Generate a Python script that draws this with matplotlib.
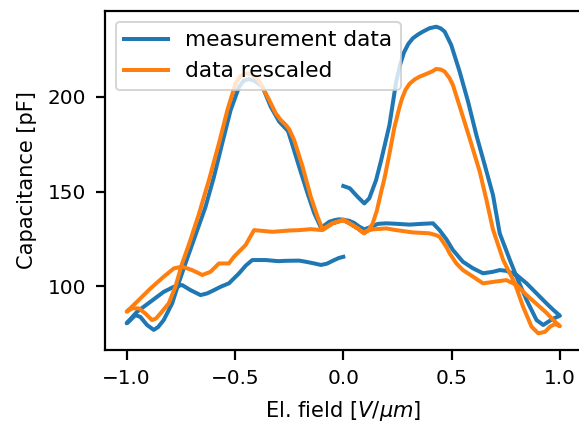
import matplotlib
matplotlib.use("Agg")
import matplotlib.pyplot as plt

# measurement data: start at 0 -> +1 -> -1 -> 0 (field in V/um, capacitance in pF)
meas_E = [0, 0.03, 0.066, 0.097, 0.12, 0.151, 0.175, 0.213, 0.244, 0.262, 0.28, 0.3, 0.321,
          0.345, 0.367, 0.398, 0.429, 0.45, 0.468, 0.498, 0.537, 0.576, 0.614, 0.653,
          0.691, 0.722, 0.769, 0.8, 0.846, 0.892, 0.923, 0.946, 0.97, 1.0,
          0.97, 0.938, 0.892, 0.846, 0.8, 0.753, 0.722, 0.691, 0.645, 0.599, 0.552,
          0.506, 0.475, 0.444, 0.414, 0.36, 0.306, 0.25, 0.198, 0.16, 0.136, 0.097,
          0.074, 0.05, 0.028, 0, -0.019, -0.04, -0.065, -0.085, -0.103,
          -0.134, -0.165, -0.204, -0.242, -0.255, -0.296, -0.335, -0.373, -0.41,
          -0.435, -0.46, -0.481, -0.52, -0.559, -0.597, -0.636, -0.667, -0.698,
          -0.729, -0.759, -0.79, -0.829, -0.855, -0.875, -0.906, -0.937, -0.96,
          -0.983, -1.0,
          -0.952, -0.89, -0.829, -0.782, -0.744, -0.705, -0.659, -0.628, -0.597,
          -0.566, -0.528, -0.505, -0.481, -0.45, -0.42, -0.358, -0.3, -0.265, -0.204,
          -0.173, -0.13, -0.103, -0.075, -0.049, -0.02, 0]
meas_C = [153, 151.8, 147.3, 143.8, 146.5, 156, 166.7, 185.2, 208, 217, 223.5, 228, 231,
          233, 234.5, 236.3, 237.1, 236.2, 234.5, 227.5, 213.4, 197.5, 180, 164,
          148.2, 128, 113.9, 105, 92.8, 82.2, 79.6, 81.3, 83, 84.5,
          87.5, 91, 96.3, 101.6, 106, 108.2, 108.6, 107.7, 106.9, 109.5, 113,
          119.2, 125, 129.7, 133.3, 133, 132.6, 133, 133.3, 133, 131.8, 130.1,
          131.5, 133.5, 134.6, 135.2, 135.4, 135, 134.1, 132.4, 131,
          138.6, 149.1, 163.2, 177.3, 182, 187, 194.9, 205.4, 208.5,
          209.5, 208.5, 205.4, 193.1, 175.5, 157.9, 142, 132, 122,
          112, 102, 91, 82.2, 78.5, 77, 79.6, 83.9, 84.8,
          82.2, 80.5,
          86.6, 91.9, 97.1, 99.8, 100.7, 98, 95.4, 96.3, 98,
          99.8, 101.6, 104.2, 106.9, 111, 113.9, 113.9, 113.3, 113.5, 113.6,
          113, 112, 111.3, 112, 113.5, 115, 115.6]

# rescaled data
resc_E = [0, 0.028, 0.066, 0.09, 0.115, 0.135, 0.155, 0.175, 0.19, 0.213, 0.236, 0.259,
          0.272, 0.288, 0.306, 0.33, 0.352, 0.39, 0.41, 0.429, 0.45, 0.468, 0.49, 0.506,
          0.545, 0.583, 0.63, 0.66, 0.691, 0.738, 0.792, 0.83, 0.869, 0.9, 0.931, 0.954,
          0.977, 1.0,
          0.969, 0.938, 0.907, 0.846, 0.8, 0.769, 0.753, 0.707, 0.645, 0.62, 0.599,
          0.552, 0.522, 0.491, 0.475, 0.444, 0.429, 0.398, 0.321, 0.244, 0.198,
          0.136, 0.115, 0.097, 0.066, 0.028, 0, -0.049, -0.096,
          -0.119, -0.15, -0.188, -0.227, -0.25, -0.265, -0.29, -0.312, -0.35,
          -0.397, -0.425, -0.45, -0.475, -0.497, -0.535, -0.574, -0.62, -0.667,
          -0.69, -0.713, -0.744, -0.775, -0.806, -0.844, -0.865, -0.883, -0.914,
          -0.944, -0.975, -1.0,
          -0.952, -0.89, -0.829, -0.782, -0.744, -0.698, -0.651, -0.613, -0.574,
          -0.528, -0.505, -0.451, -0.412, -0.327, -0.25, -0.204, -0.15, -0.096,
          -0.049, 0]
resc_C = [135, 133.3, 130.6, 128.5, 129.5, 133, 140, 150, 157, 170, 184, 194.5,
          199.5, 204, 207, 209.3, 210.7, 212.5, 213.5, 214.8, 214.5, 213.4, 210, 206.3,
          192.2, 178.2, 160.5, 146, 130, 113.9, 101.6, 89.2, 78.7, 75.2, 76, 78.7,
          80.1, 79,
          82.2, 86, 89.2, 95.4, 100.7, 102.4, 103.3, 102.6, 101.6, 103.5, 105.1,
          108.6, 112.1, 117.4, 121, 126.2, 127, 128, 128.5, 129.7, 130.6,
          130.1, 129.5, 128, 130.6, 133.3, 135, 133.3, 130.2,
          136.8, 147.3, 163.2, 177.3, 183, 185.2, 188, 191.4, 200.2,
          209.9, 212, 212.5, 211, 207.2, 193.1, 175.5, 156.2, 138,
          130, 122, 112.1, 99.8, 91, 85.7, 83, 82.2, 85.7,
          88.4, 88.4, 86.6,
          91.9, 98.9, 105.1, 109.5, 110.4, 108.6, 106, 107.7, 112.1,
          112.1, 115.6, 121.8, 129.7, 128.8, 129.5, 129.7, 130.2, 129.7,
          133.3, 135]

fig = plt.figure(figsize=(579 / 144, 423 / 144), dpi=144)
# axes run a little past the right edge, like the cropped original
ax = fig.add_axes([105 / 579, 73 / 423, 476.6 / 579, 339 / 423])

ax.plot(meas_E, meas_C, color="C0", lw=2, label="measurement data")
ax.plot(resc_E, resc_C, color="C1", lw=2, label="data rescaled")

ax.set_xlim(-1.1, 1.1)
ax.set_ylim(66.4, 245.4)
ax.set_xticks([-1.0, -0.5, 0.0, 0.5, 1.0])
ax.set_yticks([100, 150, 200])
ax.tick_params(length=4.75, width=1.1, pad=4.75, labelsize=10)
for s in ax.spines.values():
    s.set_linewidth(1.1)
ax.set_xlabel(r"El. field [$V/\mu m$]", fontsize=10.5, labelpad=5.4)
ax.set_ylabel("Capacitance [pF]", fontsize=10.5, labelpad=5.4)
ax.legend(loc="upper left", fontsize=10.8)

fig.savefig("out.png", dpi=144)
